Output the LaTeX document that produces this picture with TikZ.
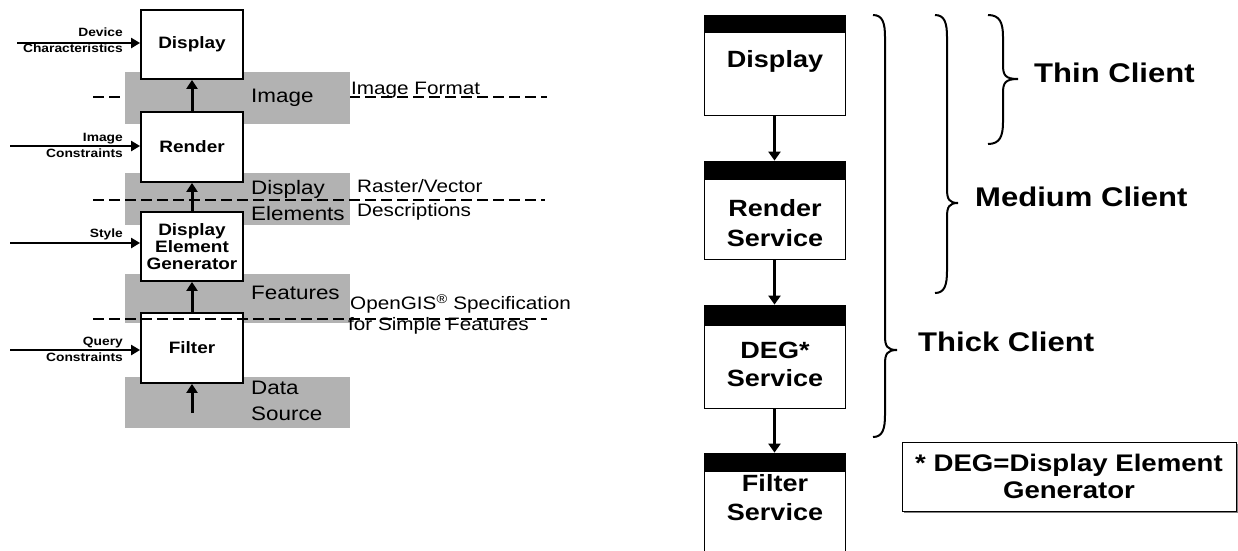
\documentclass[tikz,border=0pt]{standalone}
\usepackage{fontspec}
\setmainfont{Liberation Sans}[FakeStretch=1.15]
\usetikzlibrary{arrows.meta,shadows}
\definecolor{bandgray}{RGB}{178,178,178}
\newcommand\mybrace[6]{% x, ytop, ymid, ybot, stem offset, tip offset
  \draw[bracestyle] (#1,#2) .. controls ({#1+0.8*#5},#2) and ({#1+#5},{#2+8}) .. ({#1+#5},{#2+22})
  -- ({#1+#5},{#3-14}) .. controls ({#1+#5},{#3-4}) and ({#1+#5+2},#3) .. ({#1+#6},#3)
  .. controls ({#1+#5+2},#3) and ({#1+#5},{#3+4}) .. ({#1+#5},{#3+14})
  -- ({#1+#5},{#4-22}) .. controls ({#1+#5},{#4-8}) and ({#1+0.8*#5},#4) .. (#1,#4);}
\begin{document}
\begin{tikzpicture}[x=1pt,y=-1pt,
  lbox/.style={draw,line width=1.8pt,fill=white,minimum width=102pt,inner sep=0pt,
    align=center,font=\bfseries\fontsize{16.5}{17}\selectfont},
  band/.style={fill=bandgray,minimum width=225pt,inner sep=0pt},
  bandlabel/.style={anchor=west,inner sep=0pt,align=left,font=\fontsize{19.5}{26}\selectfont},
  inlabel/.style={anchor=east,inner sep=0pt,align=right,font=\bfseries\fontsize{12}{16}\selectfont},
  annot/.style={anchor=west,inner sep=0pt,align=left,font=\fontsize{18}{24}\selectfont},
  uparrow/.style={line width=3pt,-{Triangle[length=9pt,width=11pt]}},
  inarrow/.style={line width=2.5pt,-{Triangle[length=9pt,width=10pt]}},
  dashline/.style={line width=2.5pt,dash pattern=on 11pt off 5pt},
  rbox/.style={draw,line width=0.8pt,fill=white,minimum width=141pt,inner sep=0pt},
  rlabel/.style={inner sep=0pt,align=center,font=\bfseries\fontsize{23.5}{30}\selectfont},
  rarrow/.style={line width=3pt,-{Triangle[length=9pt,width=12pt]}},
  bracestyle/.style={line width=2pt},
  client/.style={anchor=west,inner sep=0pt,font=\bfseries\fontsize{27}{30}\selectfont}]
\useasboundingbox (0,0) rectangle (1238,550);
\fill[white] (0,0) rectangle (1238,550);

% ---------------- left diagram ----------------
\coordinate (imgL) at (93,97);
\coordinate (imgR) at (547,97);
\draw[dashline] (imgL) -- (imgR);

\node[band,minimum height=52pt] (bimage) at (237.5,98) {};
\node[band,minimum height=52pt] (bdisp) at (237.5,199) {};
\node[band,minimum height=49pt] (bfeat) at (237.5,298.5) {};
\node[band,minimum height=51pt] (bdata) at (237.5,402.5) {};

\node[bandlabel] (limage) at (251,98) {Image};
\node[bandlabel] (ldisp) at (251,201) {Display\\Elements};
\node[bandlabel] (lfeat) at (251,293) {Features};
\node[bandlabel] (ldata) at (251,401) {Data\\Source};

\node[lbox,minimum height=69pt] (display) at (192,44.5) {Display};
\node[lbox,minimum height=70pt] (render) at (192,147) {Render};
\node[lbox,minimum height=69pt] (deg) at (192,246.5) {Display\\Element\\Generator};
\node[lbox,minimum height=70pt] (filter) at (192,348) {Filter};

\coordinate (src) at (192,413);
\draw[uparrow] (render.north) -- (display.south);
\draw[uparrow] (deg.north) -- (render.south);
\draw[uparrow] (filter.north) -- (deg.south);
\draw[uparrow] (src) -- (filter.south);

\coordinate (in1) at (17,43);
\coordinate (in2) at (10,146);
\coordinate (in3) at (10,243);
\coordinate (in4) at (10,350);
\draw[inarrow] (in1) -- (display.west |- in1);
\draw[inarrow] (in2) -- (render.west |- in2);
\draw[inarrow] (in3) -- (deg.west |- in3);
\draw[inarrow] (in4) -- (filter.west |- in4);

\node[inlabel] (t1) at (123,40) {Device\\Characteristics};
\node[inlabel] (t2) at (123,145.5) {Image\\Constraints};
\node[inlabel] (t3) at (123,234) {Style};
\node[inlabel] (t4) at (123,349) {Query\\Constraints};

\coordinate (dspL) at (93,200);
\coordinate (dspR) at (545,200);
\draw[dashline] (dspL) -- (dspR);
\coordinate (ftL) at (93,319);
\coordinate (ftR) at (547,319);
\draw[dashline] (ftL) -- (ftR);

\node[annot] (aimg) at (351,90) {Image Format};
\node[annot] (aras) at (357,200) {Raster/Vector\\Descriptions};
\node[annot,font=\fontsize{18}{21}\selectfont] (aogc) at (348,314.5) {\hspace*{2pt}OpenGIS\textsuperscript{®} Specification\\for Simple Features};

% ---------------- right diagram ----------------
\node[rbox,minimum height=100pt] (rdisp) at (774.5,65) {};
\node[rbox,minimum height=98pt] (rrend) at (774.5,210) {};
\node[rbox,minimum height=103pt] (rdeg) at (774.5,356.5) {};
\node[rbox,minimum height=107pt] (rfilt) at (774.5,506.5) {};
\fill (rdisp.north west) rectangle ([yshift=-18pt]rdisp.north east);
\fill (rrend.north west) rectangle ([yshift=-19pt]rrend.north east);
\fill (rdeg.north west) rectangle ([yshift=-21pt]rdeg.north east);
\fill (rfilt.north west) rectangle ([yshift=-19pt]rfilt.north east);

\node[rlabel] (rdispt) at (775,61) {Display};
\node[rlabel] (rrendt) at (775,223) {Render\\Service};
\node[rlabel,font=\bfseries\fontsize{23.5}{28}\selectfont] (rdegt) at (775,364) {DEG*\\Service};
\node[rlabel,font=\bfseries\fontsize{23.5}{29}\selectfont] (rfiltt) at (775,497.5) {Filter\\Service};

\draw[rarrow] (rdisp.south) -- (rrend.north);
\draw[rarrow] (rrend.south) -- (rdeg.north);
\draw[rarrow] (rdeg.south) -- (rfilt.north);

\mybrace{873}{15}{350}{437}{12}{24}
\mybrace{935}{15}{203}{293}{12}{23}
\mybrace{988}{15}{79}{144}{15}{30}

\node[client] (thin) at (1034,73) {Thin Client};
\node[client] (medium) at (975,197) {Medium Client};
\node[client] (thick) at (918,342) {Thick Client};

\node[draw,line width=0.8pt,fill=white,
  drop shadow={shadow xshift=1.5pt,shadow yshift=-2pt,opacity=0.7,fill=black!70},
  minimum width=334pt,minimum height=69pt,inner sep=0pt,align=center,
  font=\bfseries\fontsize{24}{27}\selectfont] (note) at (1069,476.5) {* DEG=Display Element\\Generator};
\end{tikzpicture}
\end{document}
